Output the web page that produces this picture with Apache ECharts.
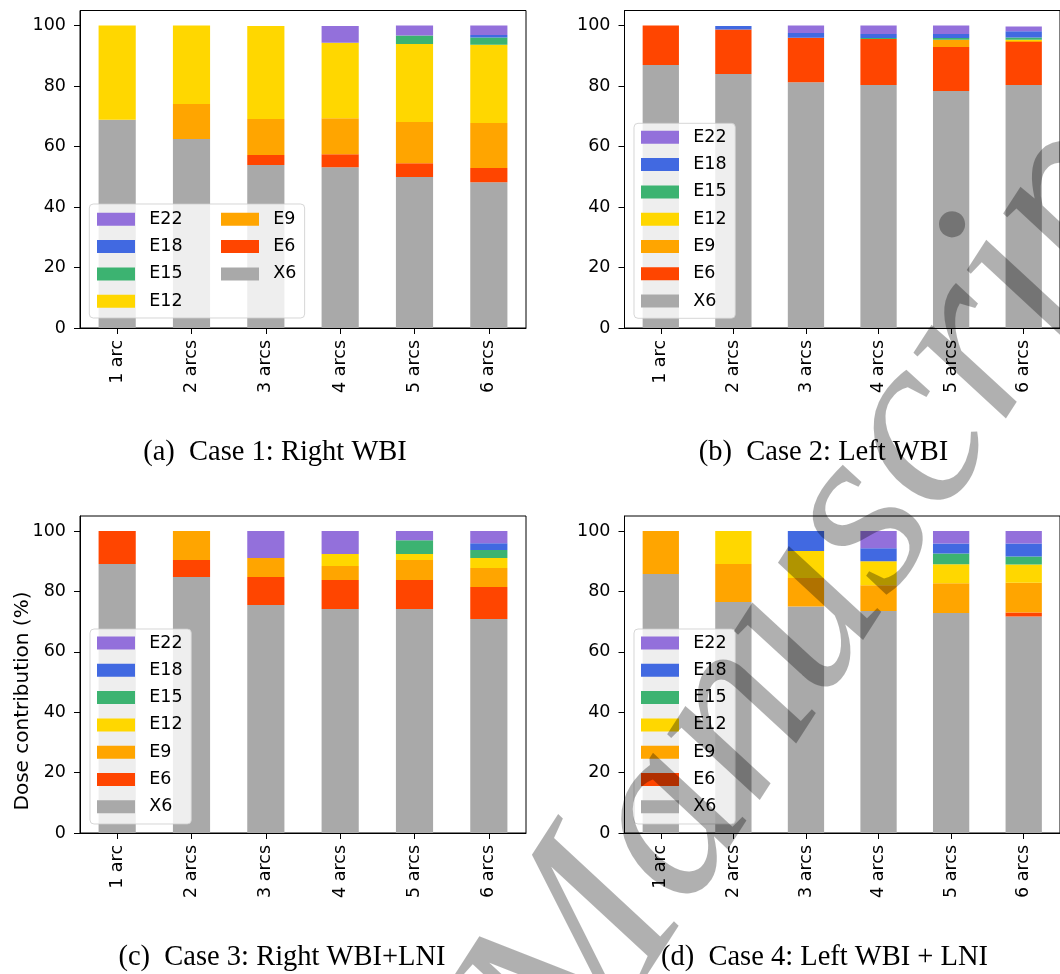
<!DOCTYPE html>
<html>
<head>
<meta charset="utf-8">
<script src="https://cdn.jsdelivr.net/npm/echarts@6/dist/echarts.min.js"></script>
<style>
html,body{margin:0;padding:0;background:#fff;}
#chart{width:1060px;height:974px;}
</style>
</head>
<body>
<div id="chart"></div>
<script>
const categories = ['1 arc', '2 arcs', '3 arcs', '4 arcs', '5 arcs', '6 arcs'];
const beams = ['X6', 'E6', 'E9', 'E12', 'E15', 'E18', 'E22'];
const legendOrder = ['E22', 'E18', 'E15', 'E12', 'E9', 'E6', 'X6'];
const yTicks = [0, 20, 40, 60, 80, 100];
const captions = ['(a)  Case 1: Right WBI', '(b)  Case 2: Left WBI', '(c)  Case 3: Right WBI+LNI', '(d)  Case 4: Left WBI + LNI'];
const yAxisTitle = 'Dose contribution (%)';
const watermark = 'Manuscript';

// Case 1: Right WBI
const case1_X6  = [68.9, 62.5, 53.9, 53.2, 49.9, 48.2];
const case1_E6  = [0, 0, 3.3, 4.3, 4.6, 4.7];
const case1_E9  = [0, 11.6, 11.9, 11.9, 13.6, 14.9];
const case1_E12 = [31.1, 25.9, 30.8, 24.9, 25.8, 25.9];
const case1_E15 = [0, 0, 0, 0, 2.8, 2.4];
const case1_E18 = [0, 0, 0, 0, 0, 0.8];
const case1_E22 = [0, 0, 0, 5.6, 3.3, 3.1];

// Case 2: Left WBI
const case2_X6  = [87.0, 84.0, 81.3, 80.4, 78.4, 80.4];
const case2_E6  = [13.0, 14.7, 14.7, 15.2, 14.5, 14.2];
const case2_E9  = [0, 0, 0, 0, 2.4, 0.3];
const case2_E12 = [0, 0, 0, 0, 0, 0.4];
const case2_E15 = [0, 0, 0, 0.3, 0.6, 0.8];
const case2_E18 = [0, 1.2, 1.6, 1.3, 1.3, 2.0];
const case2_E22 = [0, 0, 2.4, 2.8, 2.8, 1.6];

// Case 3: Right WBI + LNI
const case3_X6  = [89.1, 84.8, 75.5, 74.2, 74.2, 70.9];
const case3_E6  = [10.9, 5.6, 9.3, 9.6, 9.6, 10.6];
const case3_E9  = [0, 9.6, 6.3, 4.6, 6.6, 6.3];
const case3_E12 = [0, 0, 0, 4.0, 2.0, 3.3];
const case3_E15 = [0, 0, 0, 0, 4.6, 2.6];
const case3_E18 = [0, 0, 0, 0, 0, 2.3];
const case3_E22 = [0, 0, 8.9, 7.6, 3.0, 4.0];

// Case 4: Left WBI + LNI
const case4_X6  = [85.8, 76.5, 75.0, 73.5, 72.9, 71.7];
const case4_E6  = [0, 0, 0, 0, 0, 1.3];
const case4_E9  = [14.2, 12.6, 9.5, 8.6, 9.8, 9.9];
const case4_E12 = [0, 10.9, 8.9, 7.9, 6.3, 6.0];
const case4_E15 = [0, 0, 0, 0, 3.6, 2.7];
const case4_E18 = [0, 0, 6.6, 4.3, 3.3, 4.3];
const case4_E22 = [0, 0, 0, 5.7, 4.1, 4.1];

const colors = {
  X6: '#a9a9a9', E6: '#ff4500', E9: '#ffa500', E12: '#ffd700',
  E15: '#3cb371', E18: '#4169e1', E22: '#9370db'
};

const panels = [
  {X6: case1_X6, E6: case1_E6, E9: case1_E9, E12: case1_E12, E15: case1_E15, E18: case1_E18, E22: case1_E22},
  {X6: case2_X6, E6: case2_E6, E9: case2_E9, E12: case2_E12, E15: case2_E15, E18: case2_E18, E22: case2_E22},
  {X6: case3_X6, E6: case3_E6, E9: case3_E9, E12: case3_E12, E15: case3_E15, E18: case3_E18, E22: case3_E22},
  {X6: case4_X6, E6: case4_E6, E9: case4_E9, E12: case4_E12, E15: case4_E15, E18: case4_E18, E22: case4_E22}
];

const gridPos = [
  {left: 80, top: 10.5, width: 446, height: 317.5},
  {left: 624.5, top: 10.5, width: 446, height: 317.5},
  {left: 80, top: 516, width: 446, height: 317},
  {left: 624.5, top: 516, width: 446, height: 317}
];

const FONT = 'DejaVu Sans';
const FS = 17.5;

const grids = gridPos.map(g => Object.assign({show: true, borderColor: '#000', borderWidth: 1, containLabel: false}, g));

const xAxes = gridPos.map((g, i) => ({
  type: 'category', gridIndex: i, data: categories,
  axisLine: {show: true, lineStyle: {color: '#000', width: 1}},
  axisTick: {show: true, alignWithLabel: true, length: 6, lineStyle: {color: '#000'}},
  axisLabel: {rotate: 90, interval: 0, margin: 12, color: '#000', fontFamily: FONT, fontSize: FS},
  splitLine: {show: false}
}));

const yAxes = gridPos.map((g, i) => ({
  type: 'value', gridIndex: i, min: 0, max: 105,
  axisLine: {show: true, lineStyle: {color: '#000', width: 1}},
  axisTick: {show: true, length: 6, lineStyle: {color: '#000'}, customValues: yTicks},
  axisLabel: {margin: 14, color: '#000', fontFamily: FONT, fontSize: FS, customValues: yTicks},
  splitLine: {show: false}
}));

const series = [];
panels.forEach((p, i) => {
  beams.forEach(b => {
    series.push({
      type: 'bar', name: b, stack: 'case' + i, xAxisIndex: i, yAxisIndex: i,
      data: p[b], barWidth: '50%', itemStyle: {color: colors[b]},
      emphasis: {disabled: true}, silent: true
    });
  });
});

const legendBase = {
  orient: 'vertical', icon: 'rect', itemWidth: 38, itemHeight: 13, itemGap: 9.3,
  selectedMode: false,
  textStyle: {color: '#000', fontFamily: FONT, fontSize: FS, lineHeight: 18, padding: [0, 0, 0, 9.3]},
  borderColor: 'rgba(204,204,204,0.8)', borderWidth: 1, borderRadius: 4,
  backgroundColor: 'rgba(255,255,255,0.8)', z: 6
};

const legends = [
  Object.assign({}, legendBase, {data: ['E22', 'E18', 'E15', 'E12'], left: 89.3, top: 204, padding: [6.3, 122, 7.8, 7.7]}),
  Object.assign({}, legendBase, {data: ['E9', 'E6', 'X6'], left: 221, top: 210.3, padding: 0, backgroundColor: 'transparent', borderWidth: 0, z: 7}),
  Object.assign({}, legendBase, {data: legendOrder, left: 634, top: 123.3, padding: [5, 8.7, 8.2, 7]}),
  Object.assign({}, legendBase, {data: legendOrder, left: 90, top: 629, padding: [5, 8.7, 8.2, 7]}),
  Object.assign({}, legendBase, {data: legendOrder, left: 634, top: 629, padding: [5, 8.7, 8.2, 7]})
];

const capPos = [[275, 453], [823.5, 453], [282, 958], [824.5, 958]];
const graphics = captions.map((c, i) => ({
  type: 'text', x: capPos[i][0], y: capPos[i][1], z: 10,
  style: {text: c, fontFamily: 'Liberation Serif', fontSize: 28.5, fill: '#000', align: 'center', verticalAlign: 'middle'}
}));
graphics.push({
  type: 'text', x: 22.5, y: 701, rotation: Math.PI / 2, z: 10,
  style: {text: yAxisTitle, fontFamily: FONT, fontSize: 20, fill: '#000', align: 'center', verticalAlign: 'middle'}
});
graphics.push({
  type: 'text', x: 522, y: 1049, rotation: 0.998, z: 100, silent: true,
  style: {text: watermark, fontFamily: 'Liberation Serif', fontStyle: 'italic', fontSize: 247, fill: 'rgba(0,0,0,0.31)', align: 'left', verticalAlign: 'middle'}
});

const chart = echarts.init(document.getElementById('chart'), null, {renderer: 'canvas'});
chart.setOption({
  animation: false,
  backgroundColor: '#fff',
  grid: grids,
  xAxis: xAxes,
  yAxis: yAxes,
  legend: legends,
  series: series,
  graphic: graphics
});
</script>
</body>
</html>
